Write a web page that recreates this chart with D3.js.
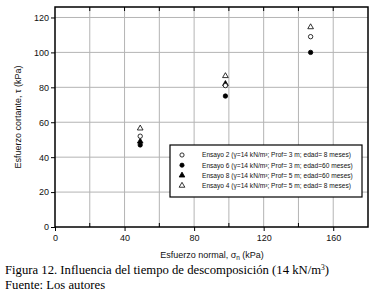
<!DOCTYPE html>
<html>
<head>
<meta charset="utf-8">
<script src="https://cdn.jsdelivr.net/npm/d3@7"></script>
<style>
  body { margin: 0; background: #fff; }
  svg text { font-family: Arial, "Liberation Sans", sans-serif; }
  svg text.serif { font-family: "Liberation Serif", "Times New Roman", serif; }
</style>
</head>
<body>
<div id="chart"></div>
<script>
// series: normal stress (kPa) and shear stress (kPa)
const ensayo2X = [49, 98, 147];
const ensayo2Y = [52, 81, 109];
const ensayo6X = [49, 98, 147];
const ensayo6Y = [47, 75, 100];
const ensayo8X = [49, 98];
const ensayo8Y = [49, 82];
const ensayo4X = [49, 98, 147];
const ensayo4Y = [56.5, 86.5, 114.5];

const legendLabels = [
  'Ensayo 2 (γ=14 kN/m³; Prof= 3 m; edad= 8 meses)',
  'Ensayo 6 (γ=14 kN/m³; Prof= 3 m; edad=60 meses)',
  'Ensayo 8 (γ=14 kN/m³; Prof= 5 m; edad=60 meses)',
  'Ensayo 4 (γ=14 kN/m³; Prof= 5 m; edad= 8 meses)'
];
const xTicks = [0, 40, 80, 120, 160];
const xMinor = [20, 60, 100, 140];
const yTicks = [0, 20, 40, 60, 80, 100, 120];

const width = 379, height = 293;
const margin = {left: 55, right: 11, top: 7, bottom: 66};

const svg = d3.select('#chart').append('svg')
  .attr('width', width)
  .attr('height', height);

const x = d3.scaleLinear().domain([0, 180]).range([margin.left, width - margin.right]);
const y = d3.scaleLinear().domain([0, 126]).range([height - margin.bottom, margin.top]);

// grid lines every 20
const grid = svg.append('g').attr('stroke', '#b4b4b4').attr('stroke-width', 1);
d3.range(20, 180, 20).forEach(v => {
  grid.append('line').attr('x1', x(v)).attr('x2', x(v)).attr('y1', y(0)).attr('y2', y(126));
});
d3.range(20, 126, 20).forEach(v => {
  grid.append('line').attr('x1', x(0)).attr('x2', x(180)).attr('y1', y(v)).attr('y2', y(v));
});

// axes
const xAxis = d3.axisBottom(x).tickValues(xTicks).tickSize(4).tickPadding(4);
const yAxis = d3.axisLeft(y).tickValues(yTicks).tickSize(4).tickPadding(2);

const gx = svg.append('g').attr('transform', `translate(0, ${y(0)})`).call(xAxis);
const gy = svg.append('g').attr('transform', `translate(${x(0)}, 0)`).call(yAxis);
[gx, gy].forEach(g => {
  g.select('.domain').remove();
  g.selectAll('text').attr('font-size', 9).attr('fill', '#111');
  g.selectAll('line').attr('stroke', '#000');
});

// minor inward ticks on top and bottom
const minor = svg.append('g').attr('stroke', '#000');
xMinor.forEach(v => {
  minor.append('line').attr('x1', x(v)).attr('x2', x(v)).attr('y1', y(0)).attr('y2', y(0) - 4);
  minor.append('line').attr('x1', x(v)).attr('x2', x(v)).attr('y1', y(126)).attr('y2', y(126) + 4);
});
xTicks.slice(1).forEach(v => {
  minor.append('line').attr('x1', x(v)).attr('x2', x(v)).attr('y1', y(126)).attr('y2', y(126) + 4);
});

// frame
svg.append('rect')
  .attr('x', x(0)).attr('y', y(126))
  .attr('width', x(180) - x(0)).attr('height', y(0) - y(126))
  .attr('fill', 'none').attr('stroke', '#000').attr('stroke-width', 1.5);

// markers
const tri = d3.symbol().type(d3.symbolTriangle).size(14);
function drawSeries(xs, ys, kind) {
  const pts = xs.map((v, i) => [v, ys[i]]);
  const g = svg.append('g');
  if (kind === 'openCircle' || kind === 'filledCircle') {
    g.selectAll('circle').data(pts).enter().append('circle')
      .attr('cx', d => x(d[0])).attr('cy', d => y(d[1])).attr('r', 2.2)
      .attr('fill', kind === 'filledCircle' ? '#000' : '#fff')
      .attr('stroke', '#000').attr('stroke-width', 0.8);
  } else {
    g.selectAll('path').data(pts).enter().append('path')
      .attr('d', tri)
      .attr('transform', d => `translate(${x(d[0])}, ${y(d[1])})`)
      .attr('fill', kind === 'filledTriangle' ? '#000' : '#fff')
      .attr('stroke', '#000').attr('stroke-width', 0.8);
  }
}
drawSeries(ensayo4X, ensayo4Y, 'openTriangle');
drawSeries(ensayo8X, ensayo8Y, 'filledTriangle');
drawSeries(ensayo2X, ensayo2Y, 'openCircle');
drawSeries(ensayo6X, ensayo6Y, 'filledCircle');

// legend
const legend = svg.append('g');
legend.append('rect')
  .attr('x', 170).attr('y', 145).attr('width', 192).attr('height', 52)
  .attr('fill', '#fff').attr('stroke', '#000').attr('stroke-width', 1.2);
const kinds = ['openCircle', 'filledCircle', 'filledTriangle', 'openTriangle'];
legendLabels.forEach((label, i) => {
  const cy = 155 + i * 10.2;
  if (kinds[i].endsWith('Circle')) {
    legend.append('circle').attr('cx', 182).attr('cy', cy).attr('r', 2.1)
      .attr('fill', kinds[i] === 'filledCircle' ? '#000' : '#fff')
      .attr('stroke', '#000').attr('stroke-width', 0.8);
  } else {
    legend.append('path').attr('d', tri).attr('transform', `translate(182, ${cy})`)
      .attr('fill', kinds[i] === 'filledTriangle' ? '#000' : '#fff')
      .attr('stroke', '#000').attr('stroke-width', 0.8);
  }
  legend.append('text').attr('x', 202).attr('y', cy + 2.3)
    .attr('font-size', 6.6).attr('fill', '#111').text(label);
});

// axis titles
const xt = svg.append('text').attr('x', 212).attr('y', 258)
  .attr('text-anchor', 'middle').attr('font-size', 9).attr('fill', '#111');
xt.append('tspan').text('Esfuerzo normal, σ');
xt.append('tspan').attr('font-size', 6.5).attr('dy', 2).text('n');
xt.append('tspan').attr('dy', -2).text(' (kPa)');

svg.append('text')
  .attr('transform', `translate(21, ${y(63)}) rotate(-90)`)
  .attr('text-anchor', 'middle').attr('font-size', 9).attr('fill', '#111')
  .text('Esfuerzo cortante, τ (kPa)');

// caption
const cap = svg.append('text').attr('class', 'serif').attr('x', 5).attr('y', 274)
  .attr('font-size', 12.7).attr('fill', '#000');
cap.append('tspan').text('Figura 12. Influencia del tiempo de descomposición (14 kN/m');
cap.append('tspan').attr('font-size', 7.5).attr('dy', -4.5).text('3');
cap.append('tspan').attr('dy', 4.5).text(')');

svg.append('text').attr('class', 'serif').attr('x', 5).attr('y', 289)
  .attr('font-size', 12.7).attr('fill', '#000')
  .text('Fuente: Los autores');
</script>
</body>
</html>
